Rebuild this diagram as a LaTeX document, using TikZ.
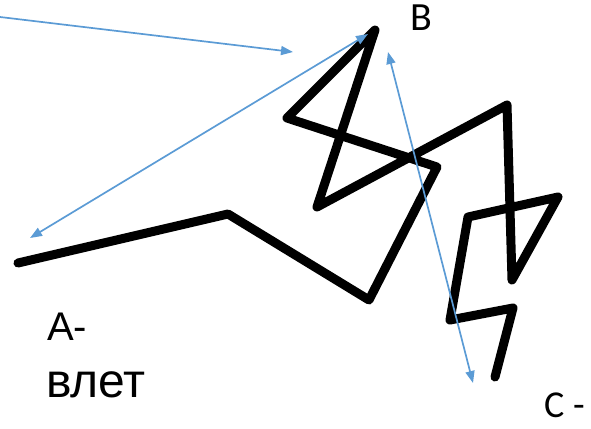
\documentclass[tikz,border=0pt]{standalone}
\usepackage{fontspec}
\setmainfont{Liberation Sans}
\newfontfamily\slidefont{Carlito}
\usetikzlibrary{arrows.meta}
\definecolor{arrowblue}{HTML}{5B9BD5}

\begin{document}
\begin{tikzpicture}[x=1pt,y=-1pt,
    scribble/.style={line width=9pt, line join=round, line cap=round},
    pointer/.style={draw=arrowblue, line width=1.7pt, -{Triangle[length=12pt,width=9pt]}},
    twoway/.style={pointer, {Triangle[length=12pt,width=9pt]}-{Triangle[length=12pt,width=9pt]}}]

    \useasboundingbox (0,0) rectangle (591,428);

    \draw[scribble] (18,263) -- (228,214) -- (369,300) -- (437,167) -- (287,118)
        -- (375,30) -- (317,207) -- (507,105) -- (512,280) -- (558,197)
        -- (468,217) -- (450,320) -- (513,308) -- (495,377);

    \coordinate (from_left) at (0,17);
    \coordinate (near_b) at (293,52);
    \coordinate (a_tip) at (30,238);
    \coordinate (b_tip) at (368,34);
    \coordinate (b_right) at (388,52);
    \coordinate (c_tip) at (473,383);

    \draw[pointer] (from_left) -- (near_b);
    \draw[twoway] (a_tip) -- (b_tip);
    \draw[twoway] (b_right) -- (c_tip);

    \node[anchor=base, inner sep=0pt, font=\slidefont\fontsize{40}{48}\selectfont] (label_b) at (421,31) {B};
    \node[anchor=base west, inner sep=0pt, font=\fontsize{40}{48}\selectfont] (label_a) at (47,340) {A-};
    \node[anchor=base west, inner sep=0pt, font=\fontsize{48}{57}\selectfont] (label_a_word) at (46,397) {влет};
    \node[anchor=base west, inner sep=0pt, font=\slidefont\fontsize{38}{46}\selectfont] (label_c) at (544,417) {C -};

\end{tikzpicture}
\end{document}
